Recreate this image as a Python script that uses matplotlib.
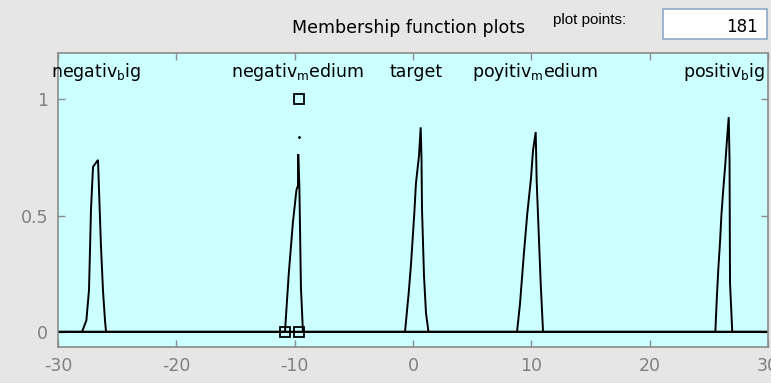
import matplotlib.pyplot as plt
from matplotlib.patches import Rectangle

plt.rcParams['font.family'] = ['DejaVu Sans']
plt.rcParams['mathtext.fontset'] = 'dejavusans'

# membership function curves (x in input units, y in degree of membership)
mf_names = [r'negativ$_\mathregular{b}$ig', r'negativ$_\mathregular{m}$edium', 'target',
            r'poyitiv$_\mathregular{m}$edium', r'positiv$_\mathregular{b}$ig']
mf_centers = [-26.8, -9.8, 0.25, 10.3, 26.3]

nb_x = [-27.97, -27.6, -27.38, -27.21, -27.04, -26.62, -26.54, -26.37, -26.2, -26.03, -25.94]
nb_y = [0.0, 0.05, 0.18, 0.53, 0.71, 0.74, 0.62, 0.37, 0.18, 0.05, 0.0]

nm_x = [-10.82, -10.5, -10.15, -9.85, -9.72, -9.7, -9.6, -9.47, -9.3]
nm_y = [0.0, 0.25, 0.47, 0.61, 0.63, 0.765, 0.62, 0.19, 0.0]

tg_x = [-0.675, -0.36, -0.17, 0.11, 0.25, 0.51, 0.65, 0.72, 0.76, 0.93, 1.1, 1.31]
tg_y = [0.0, 0.17, 0.29, 0.51, 0.64, 0.76, 0.88, 0.74, 0.53, 0.24, 0.08, 0.0]

pm_x = [8.79, 9.04, 9.36, 9.66, 9.97, 10.14, 10.37, 10.45, 10.62, 10.79, 10.99]
pm_y = [0.0, 0.12, 0.33, 0.51, 0.66, 0.78, 0.86, 0.65, 0.43, 0.21, 0.0]

pb_x = [25.55, 25.67, 25.8, 25.95, 26.06, 26.2, 26.39, 26.51, 26.68, 26.75, 26.79, 26.98]
pb_y = [0.0, 0.14, 0.27, 0.39, 0.5, 0.6, 0.72, 0.81, 0.924, 0.74, 0.21, 0.0]

# handles of the selected function
handle_x = [-10.8, -9.6, -9.6]
handle_y = [0.0, 0.0, 1.0]
dot_x = [-9.62]
dot_y = [0.84]

x_ticks = [-30, -20, -10, 0, 10, 20, 30]
y_ticks = [0, 0.5, 1]
plot_points = 181

W, H = 771, 383
fig = plt.figure(figsize=(W / 100, H / 100), dpi=100)
fig.patch.set_facecolor('#e6e6e6')

ax = fig.add_axes([58 / W, 1 - 347 / H, 710 / W, 294 / H])
ax.set_facecolor('#ccffff')

curves = [(nb_x, nb_y), (nm_x, nm_y), (tg_x, tg_y), (pm_x, pm_y), (pb_x, pb_y)]
for xs, ys in curves:
    ax.plot([-30] + xs + [30], [0] + ys + [0], color='black', lw=1.4, solid_joinstyle='miter')

ax.plot(handle_x, handle_y, linestyle='None', marker='s', markersize=7,
        markerfacecolor='none', markeredgecolor='black', markeredgewidth=1.3)
ax.plot(dot_x, dot_y, linestyle='None', marker='.', markersize=2, color='black')

for name, cx in zip(mf_names, mf_centers):
    ax.text(cx, 1.095, name, ha='center', va='baseline', fontsize=12.5, color='black')

ax.set_xlim(-30, 30)
ax.set_ylim(-0.065, 1.2)
ax.set_xticks(x_ticks)
ax.set_yticks(y_ticks)
ax.set_xticklabels([str(t) for t in x_ticks])
ax.set_yticklabels(['0', '0.5', '1'])
ax.tick_params(direction='in', length=5, width=1, colors='#8a8a8a', labelcolor='#808080',
               labelsize=12.5, top=True, right=True, pad=7)
for s in ax.spines.values():
    s.set_color('#8a8a8a')
    s.set_linewidth(1.2)

fig.text(409 / W, 1 - 28 / H, 'Membership function plots', ha='center', va='center', fontsize=12.5)
fig.text(590 / W, 1 - 20 / H, 'plot points:', ha='center', va='center', fontsize=11,
         family='Liberation Sans')
fig.patches.append(Rectangle((663 / W, 1 - 39 / H), 104 / W, 30 / H, transform=fig.transFigure,
                             facecolor='white', edgecolor='#8fa8c8', lw=1.2))
fig.text(758 / W, 1 - 27 / H, str(plot_points), ha='right', va='center', fontsize=12)

fig.savefig('out.png', dpi=100, facecolor=fig.get_facecolor())
